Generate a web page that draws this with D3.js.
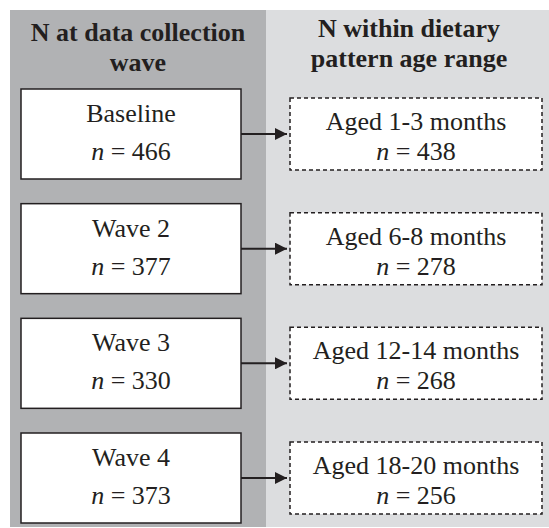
<!DOCTYPE html>
<html lang="en">
<head>
<title>Sample flow</title>
<meta charset="utf-8">
<script src="https://d3js.org/d3.v7.min.js"></script>
<style>
    body { margin: 0; background: #fff; }
    text { font-family: "Liberation Serif", "Times New Roman", serif; fill: #231f20; }
</style>
</head>
<body>
<svg id="flow-svg" width="549" height="528"></svg>
<script>
    // data
    let left_header = ["N at data collection", "wave"];
    let right_header = ["N within dietary", "pattern age range"];
    let waves = ["Baseline", "Wave 2", "Wave 3", "Wave 4"];
    let wave_n = [466, 377, 330, 373];
    let age_ranges = ["Aged 1-3 months", "Aged 6-8 months", "Aged 12-14 months", "Aged 18-20 months"];
    let age_n = [438, 278, 268, 256];

    let svg = d3.select('#flow-svg');
    let ink = "#231f20";
    let fs = 26;

    // row centres
    let y = d3.scalePoint()
        .domain(waves)
        .range([134, 478]);

    let rows = waves.map((w, i) => ({
        wave: w, n: wave_n[i], age: age_ranges[i], age_n: age_n[i]
    }));

    // background panels
    svg.append('rect')
        .attr('x', 10).attr('y', 10)
        .attr('width', 256).attr('height', 517)
        .attr('fill', '#b1b2b4');
    svg.append('rect')
        .attr('x', 266).attr('y', 10)
        .attr('width', 283).attr('height', 517)
        .attr('fill', '#dcdddf');

    // headers
    function header(lines, cx, y0){
        let t = svg.append('text')
            .attr('text-anchor', 'middle')
            .attr('font-weight', 'bold')
            .attr('font-size', fs);
        lines.forEach((l, i) => {
            t.append('tspan').attr('x', cx).attr('y', y0 + i * 30).text(l);
        });
    }
    header(left_header, 138, 41);
    header(right_header, 409, 37);

    // arrow marker
    svg.append('defs').append('marker')
        .attr('id', 'arrow')
        .attr('viewBox', '0 0 12 12')
        .attr('refX', 12).attr('refY', 6)
        .attr('markerWidth', 12).attr('markerHeight', 12)
        .attr('markerUnits', 'userSpaceOnUse')
        .attr('orient', 'auto')
        .append('path')
        .attr('d', 'M0,0 L12,6 L0,12 Z')
        .attr('fill', ink);

    let g = svg.selectAll('.row')
        .data(rows)
        .join('g')
        .attr('class', 'row')
        .attr('transform', d => `translate(0, ${y(d.wave)})`);

    // left boxes
    g.append('rect')
        .attr('x', 21).attr('y', -45)
        .attr('width', 220).attr('height', 90)
        .attr('fill', '#fff')
        .attr('stroke', ink)
        .attr('stroke-width', 1.5);

    g.append('text')
        .attr('x', 131).attr('y', -12)
        .attr('text-anchor', 'middle')
        .attr('font-size', fs)
        .text(d => d.wave);

    let ln = g.append('text')
        .attr('x', 131).attr('y', 26)
        .attr('text-anchor', 'middle')
        .attr('font-size', fs);
    ln.append('tspan').attr('font-style', 'italic').text('n');
    ln.append('tspan').text(d => ' = ' + d.n);

    // arrows
    g.append('line')
        .attr('x1', 241).attr('x2', 287)
        .attr('y1', 0).attr('y2', 0)
        .attr('stroke', ink)
        .attr('stroke-width', 2)
        .attr('marker-end', 'url(#arrow)');

    // dashed boxes
    g.append('rect')
        .attr('x', 290).attr('y', -36)
        .attr('width', 252).attr('height', 72)
        .attr('fill', '#fff')
        .attr('stroke', ink)
        .attr('stroke-width', 1.5)
        .attr('stroke-dasharray', '4,3');

    g.append('text')
        .attr('x', 416).attr('y', -4)
        .attr('text-anchor', 'middle')
        .attr('font-size', fs)
        .text(d => d.age);

    let rn = g.append('text')
        .attr('x', 416).attr('y', 26)
        .attr('text-anchor', 'middle')
        .attr('font-size', fs);
    rn.append('tspan').attr('font-style', 'italic').text('n');
    rn.append('tspan').text(d => ' = ' + d.age_n);
</script>
</body>
</html>
